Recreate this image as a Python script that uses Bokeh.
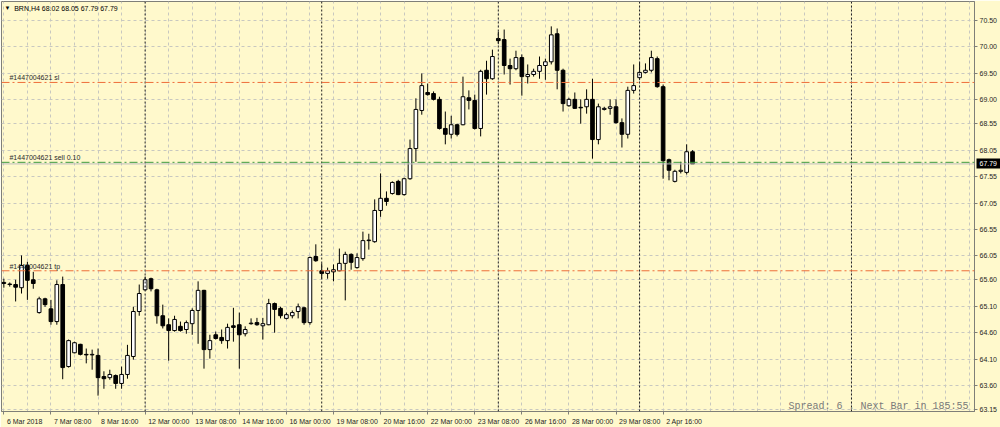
from bokeh.plotting import figure
from bokeh.models import (ColumnDataSource, Range1d, FixedTicker, Span, Label,
                          PrintfTickFormatter, LinearAxis)
from bokeh.embed import file_html
from bokeh.resources import INLINE

# ---- data (BRN, H4) ----
opens = [65.55, 65.52, 65.51, 65.45, 65.87, 65.60, 64.98, 65.24, 65.05, 64.81,
         65.51, 63.96, 64.22, 64.38, 64.19, 64.18, 64.17, 63.77, 63.75, 63.79,
         63.64, 63.81, 64.15, 65.00, 65.41, 65.62, 65.41, 64.92, 64.75, 64.64,
         64.72, 64.66, 64.77, 65.02, 65.40, 64.28, 64.56, 64.51, 64.45, 64.73,
         64.75, 64.58, 64.77, 64.79, 64.73, 64.75, 65.15, 65.06, 64.87, 64.92,
         65.00, 65.07, 64.79, 66.04, 65.77, 65.72, 65.75, 65.77, 65.91, 66.08,
         65.83, 66.00, 66.34, 66.32, 66.91, 67.14, 67.23, 67.46, 67.21, 67.51,
         68.08, 68.80, 69.14, 69.12, 69.01, 68.46, 68.35, 68.53, 68.53, 69.04,
         68.99, 68.46, 69.56, 69.40, 70.16, 70.14, 69.65, 69.59, 69.80, 69.44,
         69.48, 69.54, 69.65, 69.72, 70.25, 69.56, 68.89, 69.01, 68.86, 68.87,
         69.01, 68.25, 68.82, 68.84, 68.87, 68.57, 68.35, 69.18, 69.42, 69.52,
         69.56, 69.78, 69.25, 67.87, 67.46, 67.65, 67.63, 68.02]
highs = [65.62, 65.55, 65.60, 66.06, 65.94, 65.75, 65.28, 65.26, 65.22, 65.59,
         65.66, 64.47, 64.43, 64.39, 64.30, 64.28, 64.30, 63.87, 63.90, 63.81,
         63.96, 64.37, 65.09, 65.51, 65.66, 65.64, 65.43, 65.13, 64.87, 64.92,
         64.81, 64.83, 65.06, 65.57, 65.41, 64.56, 64.62, 64.66, 64.77, 65.07,
         64.98, 64.72, 64.87, 64.88, 64.88, 65.24, 65.17, 65.09, 64.98, 65.02,
         65.15, 65.09, 66.04, 66.27, 65.91, 65.83, 65.89, 66.19, 66.13, 66.10,
         66.10, 66.51, 66.47, 67.12, 67.61, 67.27, 67.46, 67.49, 67.53, 68.25,
         69.03, 69.50, 69.31, 69.16, 69.06, 68.78, 68.70, 68.55, 69.44, 69.18,
         69.10, 69.57, 69.74, 69.95, 70.29, 70.33, 69.78, 69.93, 69.86, 69.67,
         69.59, 69.82, 69.78, 70.39, 70.35, 69.59, 69.04, 69.14, 69.01, 69.20,
         69.40, 68.93, 68.87, 69.01, 69.01, 68.65, 69.25, 69.67, 69.71, 69.69,
         69.93, 69.82, 69.29, 67.89, 67.68, 67.83, 68.16, 68.05]
lows = [65.45, 65.47, 65.19, 65.34, 65.22, 65.43, 64.96, 65.09, 64.75, 64.75,
        63.72, 63.94, 64.21, 64.17, 64.02, 63.90, 63.41, 63.54, 63.71, 63.54,
        63.54, 63.73, 64.09, 64.92, 65.40, 65.38, 64.77, 64.68, 64.07, 64.62,
        64.62, 64.58, 64.56, 64.39, 63.92, 64.11, 64.47, 64.39, 64.30, 64.43,
        63.92, 64.53, 64.75, 64.73, 64.47, 64.74, 64.60, 64.87, 64.85, 64.87,
        64.87, 64.75, 64.75, 65.94, 65.62, 65.62, 65.57, 65.76, 65.21, 65.79,
        65.81, 65.96, 66.17, 66.30, 66.79, 67.00, 67.21, 67.20, 67.19, 67.49,
        67.83, 68.72, 69.08, 68.99, 68.44, 68.16, 68.27, 68.31, 68.52, 68.82,
        68.44, 68.31, 69.10, 69.38, 70.06, 69.48, 69.29, 69.56, 69.08, 69.31,
        69.44, 69.40, 69.38, 69.67, 69.20, 68.78, 68.87, 68.83, 68.55, 68.74,
        67.89, 68.16, 68.80, 68.72, 68.55, 68.10, 68.27, 69.12, 69.38, 69.50,
        69.52, 69.23, 67.51, 67.48, 67.44, 67.61, 67.59, 67.79]
closes = [65.53, 65.51, 65.46, 65.87, 65.59, 65.53, 65.24, 65.13, 64.81, 65.51,
          63.94, 64.45, 64.41, 64.19, 64.18, 64.19, 63.75, 63.73, 63.81, 63.64,
          63.81, 64.17, 65.00, 65.34, 65.60, 65.43, 64.92, 64.73, 64.64, 64.85,
          64.64, 64.79, 65.02, 65.40, 64.28, 64.45, 64.49, 64.45, 64.70, 64.70,
          64.56, 64.66, 64.78, 64.75, 64.77, 65.15, 65.04, 64.92, 64.94, 64.98,
          65.09, 64.79, 66.02, 65.96, 65.72, 65.77, 65.79, 65.91, 66.08, 65.93,
          66.02, 66.34, 66.35, 66.91, 67.14, 67.08, 67.44, 67.21, 67.51, 68.08,
          68.82, 69.27, 69.10, 69.01, 68.46, 68.35, 68.53, 68.35, 69.06, 68.99,
          68.46, 69.54, 69.40, 69.82, 70.12, 69.65, 69.59, 69.80, 69.44, 69.48,
          69.54, 69.65, 69.72, 70.23, 69.56, 68.93, 69.01, 68.84, 68.85, 69.01,
          68.25, 68.87, 68.84, 68.87, 68.57, 68.35, 69.18, 69.27, 69.52, 69.56,
          69.80, 69.25, 67.85, 67.67, 67.65, 67.67, 68.02, 67.79]

x_tick_bars = [0, 8, 16, 24, 32, 40, 48, 56, 64, 72, 80, 88, 96, 104, 112]
x_tick_labels = ["6 Mar 2018", "7 Mar 08:00", "8 Mar 16:00", "12 Mar 00:00",
                 "13 Mar 08:00", "14 Mar 16:00", "16 Mar 00:00", "19 Mar 08:00",
                 "20 Mar 16:00", "22 Mar 00:00", "23 Mar 08:00", "26 Mar 16:00",
                 "28 Mar 00:00", "29 Mar 08:00", "2 Apr 16:00"]
y_ticks = [70.50, 70.00, 69.50, 69.00, 68.55, 68.05, 67.55, 67.05, 66.55,
           66.05, 65.60, 65.10, 64.60, 64.10, 63.60, 63.15]
week_separators = [24, 54, 84, 108, 144]

order_id = "#1447004621"
sl_price = 69.33
open_price = 67.82
tp_price = 65.77
bid_price = 67.79

header = "BRN,H4  68.02 68.05 67.79 67.79"
spread_text = "Spread: 6 . Next Bar in 185:55"

# ---- styling ----
BG = "#FFF9CC"
GRID = "#C8C8C0"
FRAME = "#7F7F78"
ORANGE = "#EE6E3A"
GREEN = "#3E9A3E"
TXT = "#1E1E1E"
FONT = "Liberation Sans"
FS = "7px"
X0, X1 = -0.4, 164.9
FRAME_W = 971.0
BAR_PX = FRAME_W / (X1 - X0)

idx = list(range(len(opens)))
bull = [c >= o for o, c in zip(opens, closes)]
src = ColumnDataSource(dict(
    i=idx, high=highs, low=lows,
    top=[max(o, c) for o, c in zip(opens, closes)],
    bottom=[min(o, c) for o, c in zip(opens, closes)],
    fill=["white" if b else "black" for b in bull],
))

p = figure(width=1000, height=427,
           x_range=Range1d(X0, X1), y_range=Range1d(63.11, 70.86),
           output_backend="svg", toolbar_location=None,
           y_axis_location="right",
           background_fill_color=BG, border_fill_color=BG,
           outline_line_color=FRAME, outline_line_width=1,
           min_border_left=1, min_border_top=1, min_border_right=5, min_border_bottom=0)

def style_axis(ax):
    ax.major_label_text_font = FONT
    ax.major_label_text_font_size = FS
    ax.major_label_text_color = TXT
    ax.axis_line_color = FRAME
    ax.major_tick_line_color = FRAME
    ax.major_tick_in = 0
    ax.major_tick_out = 3
    ax.minor_tick_line_color = None
    ax.major_label_standoff = 2

# right price axis
yax = p.right[0]
yax.ticker = FixedTicker(ticks=y_ticks)
yax.formatter = PrintfTickFormatter(format="%.2f")
style_axis(yax)

# current bid box on the price scale (outer axis with a thick inward tick)
bid_ax = LinearAxis(ticker=FixedTicker(ticks=[bid_price]),
                    formatter=PrintfTickFormatter(format="%.2f"))
style_axis(bid_ax)
bid_ax.axis_line_color = None
bid_ax.major_tick_out = 0
bid_ax.major_tick_in = 24
bid_ax.major_tick_line_color = "black"
bid_ax.major_tick_line_width = 10
bid_ax.major_tick_line_cap = "butt"
bid_ax.major_label_text_color = "white"
bid_ax.major_label_standoff = -21
p.add_layout(bid_ax, "right")

# bottom time axis: tick marks (minor) at the bars, labels left-aligned after them
CW = {" ": 0.278, ":": 0.278, "M": 0.833, "a": 0.556, "r": 0.333, "A": 0.667, "p": 0.556}
def text_px(s):
    return sum(CW.get(ch, 0.556) for ch in s) * 7.0

lab_pos = [round(b + (3 + text_px(t) / 2) / BAR_PX, 4) for b, t in zip(x_tick_bars, x_tick_labels)]
xax = p.below[0]
style_axis(xax)
xax.ticker = FixedTicker(ticks=lab_pos, minor_ticks=x_tick_bars)
xax.major_label_overrides = {pos: t for pos, t in zip(lab_pos, x_tick_labels)}
xax.major_tick_line_color = None
xax.major_tick_out = 0
xax.minor_tick_line_color = FRAME
xax.minor_tick_in = 0
xax.minor_tick_out = 3
xax.major_label_standoff = 3

# grid
p.xgrid.ticker = FixedTicker(ticks=list(range(0, 168, 4)))
for g in (p.xgrid, p.ygrid):
    g.grid_line_color = GRID
    g.grid_line_dash = "3 3"
    g.grid_line_width = 1

for s in week_separators:
    p.add_layout(Span(location=s, dimension="height", line_color="#202020",
                      line_dash="2 2", line_width=1))

# order lines
p.add_layout(Span(location=bid_price, dimension="width", line_color="#BDBDBD", line_width=1))
p.add_layout(Span(location=sl_price, dimension="width", line_color=ORANGE,
                  line_dash="8 3 2 3", line_width=1))
p.add_layout(Span(location=tp_price, dimension="width", line_color=ORANGE,
                  line_dash="8 3 2 3", line_width=1))
p.add_layout(Span(location=open_price, dimension="width", line_color=GREEN,
                  line_dash="8 3 2 3", line_width=1))

# candles
p.segment(x0="i", y0="high", x1="i", y1="low", source=src, line_color="black", line_width=1)
p.vbar(x="i", width=0.62, top="top", bottom="bottom", source=src,
       fill_color="fill", line_color="black", line_width=1)

# texts
def lab(x, y, text, **kw):
    opts = dict(text_font=FONT, text_font_size=FS, text_color="#2A2A2A",
                text_baseline="bottom")
    opts.update(kw)
    p.add_layout(Label(x=x, y=y, text=text, **opts))

lab(0.95, sl_price + 0.02, f"{order_id} sl")
lab(0.95, open_price + 0.03, f"{order_id} sell 0.10")
lab(0.95, tp_price + 0.02, f"{order_id} tp")
lab(0.1, 70.73, "\u25BC", text_baseline="middle", text_font_size="6px", text_color="black")
lab(1.75, 70.73, header, text_baseline="middle", text_color="black")
lab(163.9, 63.20, spread_text, text_baseline="middle", text_align="right",
    text_font="Liberation Mono", text_font_size="10px", text_color="#7A7A7A")

open("out.html", "w").write(file_html(p, INLINE))
